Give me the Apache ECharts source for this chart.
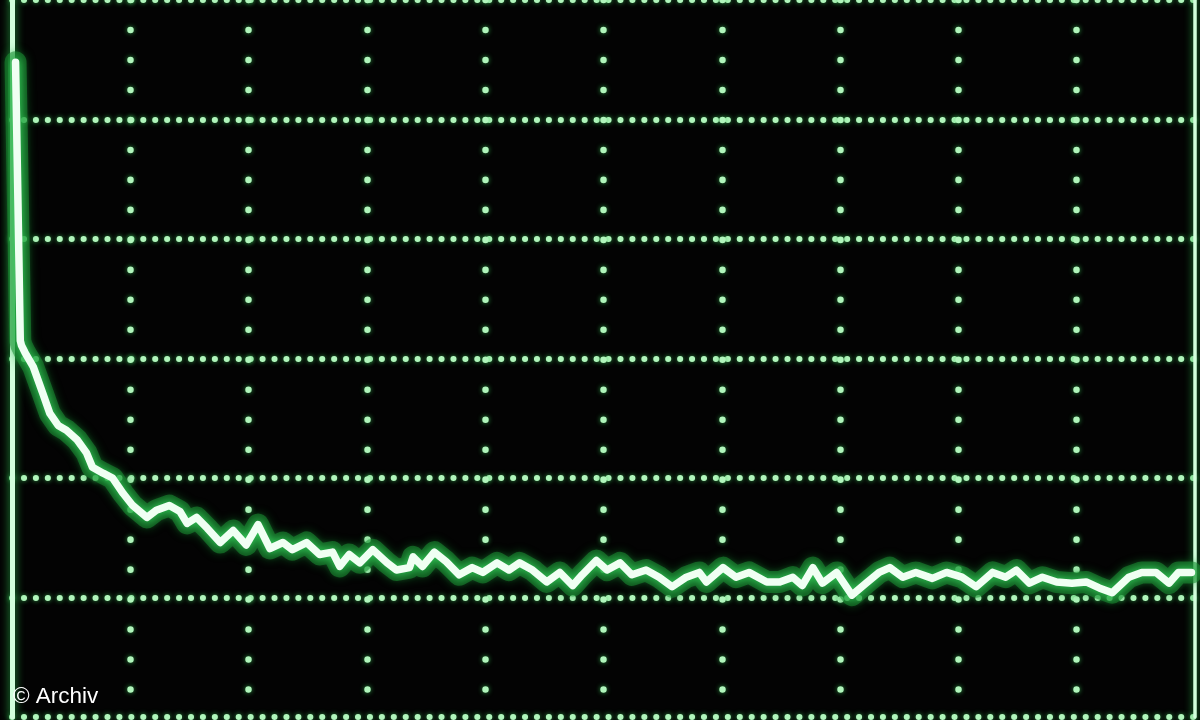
<!DOCTYPE html>
<html>
<head>
<meta charset="utf-8">
<style>
html,body{margin:0;padding:0;background:#030303;}
#chart{width:1200px;height:720px;}
</style>
<script src="https://cdn.jsdelivr.net/npm/echarts@6/dist/echarts.min.js"></script>
</head>
<body>
<div id="chart"></div>
<script>
// Screen divisions (10 horizontal x 6 vertical)
const xDivisions = [0, 10];
const yDivisions = [0, 6];
// Trace: horizontal position (divisions) and level (divisions)
const traceX = [0.03,0.05,0.07,0.08,0.11,0.18,0.26,0.32,0.39,0.46,0.55,0.63,0.68,0.77,0.85,0.94,1.02,1.14,1.22,1.33,1.42,1.48,1.56,1.65,1.76,1.87,1.98,2.08,2.18,2.29,2.37,2.49,2.60,2.71,2.77,2.85,2.94,3.05,3.17,3.25,3.36,3.39,3.47,3.57,3.67,3.78,3.89,3.98,4.10,4.20,4.29,4.40,4.52,4.63,4.74,4.82,4.94,5.03,5.14,5.24,5.36,5.47,5.58,5.70,5.81,5.87,6.01,6.12,6.23,6.38,6.49,6.60,6.68,6.77,6.85,6.97,7.10,7.22,7.33,7.42,7.53,7.64,7.78,7.90,8.03,8.15,8.29,8.40,8.49,8.60,8.71,8.83,8.96,9.08,9.19,9.30,9.44,9.55,9.67,9.78,9.86,9.97];
const traceY = [5.48,4.33,3.15,3.11,3.05,2.93,2.71,2.54,2.44,2.40,2.32,2.21,2.09,2.04,2.00,1.87,1.77,1.67,1.73,1.77,1.72,1.62,1.67,1.58,1.46,1.56,1.44,1.61,1.41,1.46,1.40,1.46,1.36,1.38,1.26,1.36,1.29,1.40,1.29,1.23,1.25,1.34,1.26,1.38,1.30,1.19,1.25,1.21,1.29,1.23,1.29,1.23,1.13,1.21,1.10,1.19,1.31,1.23,1.29,1.19,1.23,1.17,1.09,1.17,1.21,1.13,1.25,1.17,1.21,1.13,1.13,1.17,1.10,1.25,1.12,1.21,1.02,1.12,1.21,1.25,1.17,1.21,1.16,1.21,1.17,1.09,1.21,1.17,1.23,1.12,1.17,1.13,1.12,1.13,1.08,1.04,1.17,1.21,1.21,1.12,1.21,1.21];
const copyright = '© Archiv';

const trace = traceX.map((x, i) => [x, traceY[i]]);
const dotColor = '#b0f5bb';

const chart = echarts.init(document.getElementById('chart'), null, {renderer: 'canvas'});
chart.setOption({
  backgroundColor: '#030303',
  animation: false,
  grid: {left: 12, right: 5, top: 0, bottom: 3, containLabel: false},
  xAxis: {
    type: 'value', min: xDivisions[0], max: xDivisions[1], interval: 1,
    axisLine: {show: false}, axisTick: {show: false}, axisLabel: {show: false},
    splitLine: {
      show: true, showMinLine: false, showMaxLine: false,
      lineStyle: {color: dotColor, width: 6.5, type: [0.1, 29.875], cap: 'round',
                  shadowColor: 'rgba(60,200,90,0.8)', shadowBlur: 5}
    }
  },
  yAxis: [{
    type: 'value', min: yDivisions[0], max: yDivisions[1], interval: 1,
    axisLine: {show: true, lineStyle: {color: '#d2ffdc', width: 5,
               shadowColor: 'rgba(40,170,70,1)', shadowBlur: 10}},
    axisTick: {show: false}, axisLabel: {show: false},
    splitLine: {
      show: true,
      lineStyle: {color: dotColor, width: 6, type: [0.1, 11.83], cap: 'round', dashOffset: 0,
                  shadowColor: 'rgba(60,200,90,0.8)', shadowBlur: 5}
    }
  }, {
    type: 'value', position: 'right', min: yDivisions[0], max: yDivisions[1], interval: 1,
    axisLine: {show: true, lineStyle: {color: '#d2ffdc', width: 3.5,
               shadowColor: 'rgba(40,170,70,1)', shadowBlur: 8}},
    axisTick: {show: false}, axisLabel: {show: false}, splitLine: {show: false}
  }],
  series: [{
    type: 'line', data: trace, showSymbol: false, smooth: false, silent: true,
    lineStyle: {color: 'rgba(25,140,50,0.55)', width: 22, join: 'round', cap: 'round',
                shadowColor: 'rgba(25,140,50,0.8)', shadowBlur: 10}, z: 3
  }, {
    type: 'line', data: trace, showSymbol: false, smooth: false, silent: true,
    lineStyle: {color: '#f0fff3', width: 7.5, join: 'round', cap: 'round',
                shadowColor: 'rgba(60,220,100,1)', shadowBlur: 10}, z: 4
  }],
  graphic: [{
    type: 'text', left: 13, top: 685, z: 10,
    style: {text: copyright, fill: '#ffffff', font: '22.5px "Liberation Sans", Arial, sans-serif',
            shadowColor: 'rgba(0,0,0,0.9)', shadowBlur: 3}
  }]
});
</script>
</body>
</html>
